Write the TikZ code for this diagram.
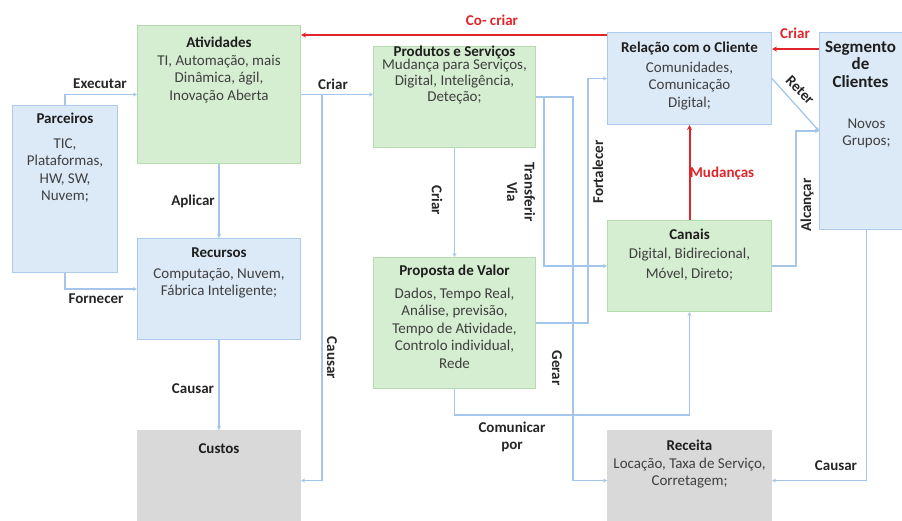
\documentclass[tikz,border=0pt]{standalone}
\usepackage{fontspec}
\setmainfont{Carlito}
\usetikzlibrary{arrows.meta}

\definecolor{bluefill}{HTML}{DCE9F7}
\definecolor{blueedge}{HTML}{AFCBEB}
\definecolor{greenfill}{HTML}{D5EDD1}
\definecolor{greenedge}{HTML}{B5DBAE}
\definecolor{greyfill}{HTML}{D9D9D9}
\definecolor{greyedge}{HTML}{D9D9D9}
\definecolor{flowcol}{HTML}{A4C6EA}
\definecolor{redcol}{HTML}{E2242B}
\definecolor{ttlcol}{HTML}{1E1E1E}
\definecolor{txtcol}{HTML}{404040}
\definecolor{lblcol}{HTML}{262626}

% box text: top pad, gap after title, width, height, title, body
\newcommand{\card}[6]{\parbox[t][#4][t]{#3}{\centering\vspace*{#1}%
	{\bfseries\color{ttlcol}\strut #5}\\[#2]{\color{txtcol}#6}}}

\begin{document}
\begin{tikzpicture}[x=1pt,y=-1pt,
	every node/.style={font=\fontsize{15}{17.5}\selectfont},
	card/.style={draw=#1edge, fill=#1fill, line width=1pt, anchor=north west, inner sep=0pt},
	flow/.style={draw=flowcol, line width=1.3pt, -{Stealth[length=4pt,width=4pt]}},
	coflow/.style={draw=redcol, line width=2pt, -{Stealth[length=5pt,width=5pt]}},
	lbl/.style={font=\fontsize{15}{17.5}\selectfont\bfseries, text=lblcol, inner sep=1pt, align=center},
	rlbl/.style={lbl, text=redcol}]
	\useasboundingbox (0,0) rectangle (902,520);

	% building blocks
	\node[card=blue] (parc) at (12,105) {\card{5.6pt}{7.5pt}{105pt}{167pt}{Parceiros}{TIC,\\Plataformas,\\HW, SW,\\Nuvem;}};
	\node[card=green] (atv) at (137,25) {\card{9.6pt}{0.5pt}{163pt}{138pt}{Atividades}{TI, Automação, mais\\Dinâmica, ágil,\\Inovação Aberta}};
	\node[card=blue] (rec) at (137,238) {\card{6.6pt}{3.5pt}{163pt}{101pt}{Recursos}{Computação, Nuvem,\\Fábrica Inteligente;}};
	\node[card=grey] (cust) at (137,430) {\card{10.6pt}{0pt}{163pt}{100pt}{Custos}{}};
	\node[card=green] (prod) at (373,46) {\card{-2.4pt}{-4.5pt}{162pt}{101pt}{Produtos e Serviços}{Mudança para Serviços,\\[-1.5pt]Digital, Inteligência,\\[-1.5pt]Deteção;}};
	\node[card=green] (prop) at (373,257) {\card{5.6pt}{5.5pt}{162pt}{131pt}{Proposta de Valor}{Dados, Tempo Real,\\Análise, previsão,\\Tempo de Atividade,\\Controlo individual,\\Rede}};
	\node[card=blue] (rel) at (607,32) {\card{7.6pt}{2.5pt}{164pt}{92pt}{Relação com o Cliente}{Comunidades,\\Comunicação\\Digital;}};
	\node[card=green] (can) at (607,220) {\card{6.6pt}{1.5pt}{164pt}{91pt}{Canais}{Digital, Bidirecional,\\[2.5pt]Móvel, Direto;}};
	\node[card=grey] (rct) at (607,430) {\card{7.6pt}{0.5pt}{164pt}{100pt}{Receita}{Locação, Taxa de Serviço,\\Corretagem;}};
	\node[card=blue] (seg) at (819,32) {\card{7.6pt}{23.5pt}{94pt}{197pt}{\fontsize{17}{17.5}\selectfont
		\hspace*{-12pt}Segmento\\\hspace*{-12pt}de\\\hspace*{-12pt}Clientes}{Novos\\Grupos;}};

	% connectors
	\coordinate (crj) at (322,94);
	\draw[flow] (parc.north) |- (atv.west);
	\draw[flow] (parc.south) |- (rec.west);
	\draw[flow] (atv.south) -- (rec.north);
	\draw[flow] (rec.south) -- (cust.north);
	\draw[flow] (atv.east) -- (atv.east -| prod.west);
	\draw[flow] (crj) |- (cust.east);
	\draw[flow] (prod.south) -- (prop.north);
	\draw[flow] (prod.east) -- ++(8,0) |- (can.west);
	\draw[flow] (prod.east) -- ++(37,0) |- (rct.west);
	\draw[flow] (prop.east) -- ++(52,0) |- (rel.west);
	\draw[flow] (prop.south) -- ++(0,26) -| (can.south);
	\draw[flow] (can.east) -- ++(24,0) |- (seg.west);
	\draw[flow] (rel.east) -- (seg.west);
	\draw[flow] (seg.south) |- (rct.east);
	\draw[coflow] (can.north) -- (rel.south);
	\draw[coflow] ([yshift=-3pt]rel.north west) -- ([yshift=-3pt]rel.north west -| atv.east);
	\draw[coflow] ([yshift=-17pt]seg.north west) -- ([yshift=-17pt]seg.north west -| rel.east);

	% labels
	\node[lbl] (lexe) at (100,84) {Executar};
	\node[lbl] (lfor) at (96,299) {Fornecer};
	\node[lbl] (lapl) at (193,201) {Aplicar};
	\node[lbl] (lcau) at (193,389) {Causar};
	\node[lbl] (lcri) at (333,84) {Criar};
	\node[lbl, rotate=-90] (lcau2) at (332,358) {Causar};
	\node[lbl, rotate=-90] (lcri2) at (437,200) {Criar};
	\node[lbl, rotate=-90] (ltra) at (521,192) {Transferir\\Via};
	\node[lbl, rotate=90] (lfort) at (598,172) {Fortalecer};
	\node[lbl, rotate=-90] (lger) at (557,368) {Gerar};
	\node[lbl] (lcom) at (512,437) {Comunicar\\por};
	\node[lbl, rotate=-45.6, inner sep=0pt] (lret) at (800,90) {Reter};
	\node[lbl, rotate=90] (lalc) at (807,205) {Alcançar};
	\node[lbl] (lcau3) at (836,466) {Causar};
	\node[rlbl] (lcoc) at (492,20) {Co- criar};
	\node[rlbl] (lcri3) at (795,33) {Criar};
	\node[rlbl] (lmud) at (722,173) {Mudanças};
\end{tikzpicture}
\end{document}
